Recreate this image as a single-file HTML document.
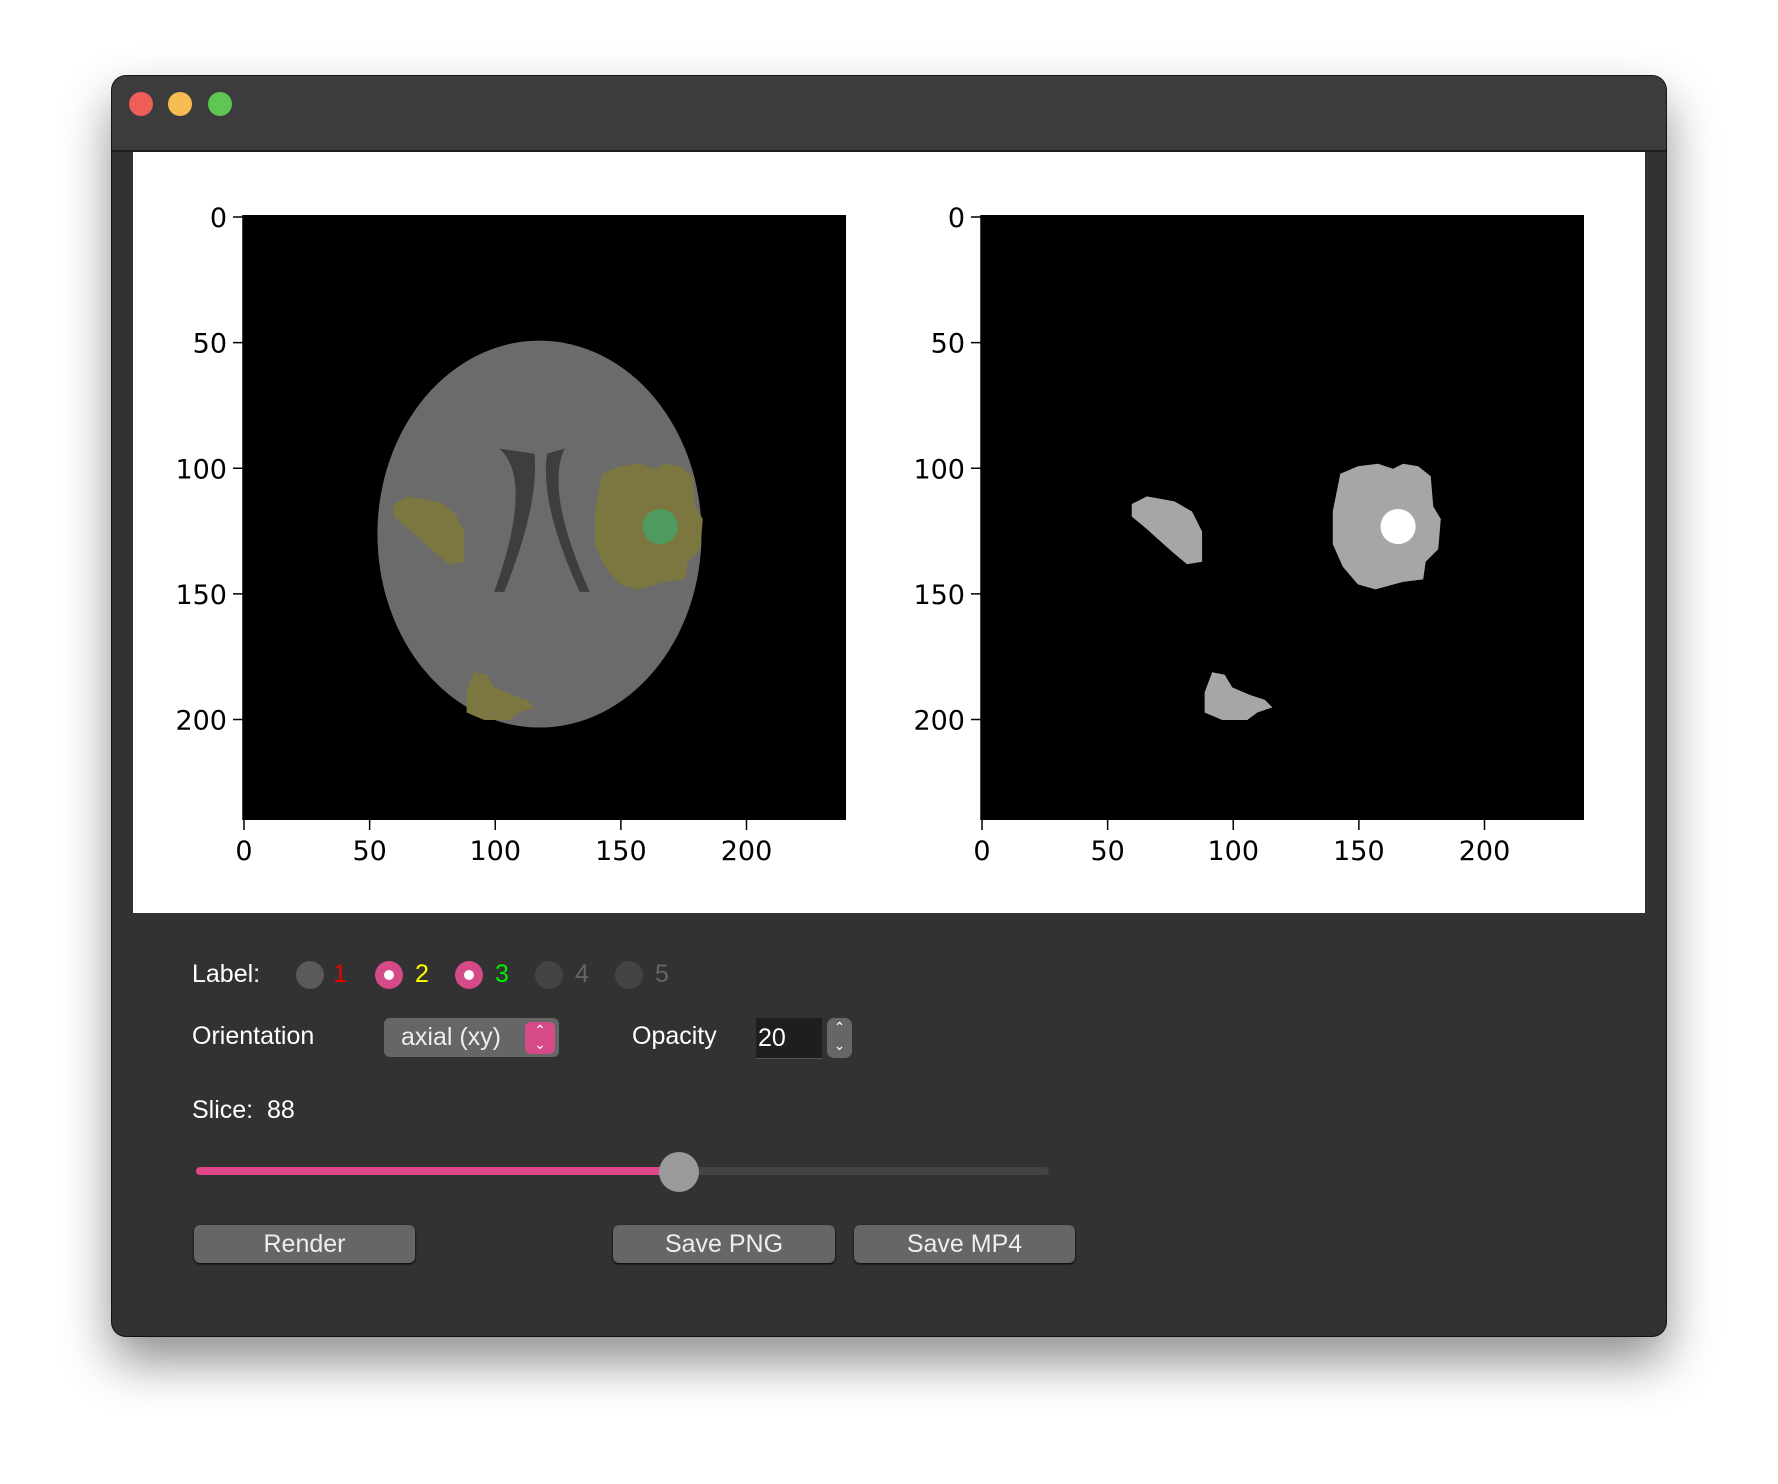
<!DOCTYPE html>
<html><head><meta charset="utf-8"><style>
body{margin:0;width:1778px;height:1484px;background:#fff;position:relative;overflow:hidden;font-family:"Liberation Sans",sans-serif}
.abs{position:absolute}
.win{left:112px;top:76px;width:1554px;height:1260px;background:#323232;border-radius:14px;box-shadow:0 25px 50px rgba(0,0,0,.45),0 0 0 1px #1a1a1a}
.title{left:112px;top:76px;width:1554px;height:74px;background:#3d3c3d;border-radius:14px 14px 0 0;border-bottom:2px solid #1e1e1e}
.dot{width:24px;height:24px;border-radius:50%;top:92px}
.lbl{color:#fff;font-size:25px}
.radio{width:28px;height:28px;border-radius:50%;background:#5a5a5a;top:961px}
.radio.on{background:#d64a8a}
.radio.on::after{content:"";position:absolute;left:9px;top:9px;width:10px;height:10px;border-radius:50%;background:#fff}
.btn{top:1225px;height:38px;background:#666;border-radius:6px;color:#eee;font-size:25px;text-align:center;line-height:38px;box-shadow:0 1px 2px #000}
</style></head><body>
<div class="abs win"></div>
<div class="abs title"></div>
<div class="abs dot" style="left:129px;background:#ee5f57"></div>
<div class="abs dot" style="left:168px;background:#f5bd4f"></div>
<div class="abs dot" style="left:208px;background:#5fc653"></div>
<svg class="abs" style="left:133px;top:152px" width="1512" height="761">
<rect width="1512" height="761" fill="#fff"/>
<g id="g"></g>
</svg>
<div class="abs lbl" style="left:192px;top:960px">Label:</div>
<div class="abs radio" style="left:296px"></div>
<div class="abs lbl" style="left:333px;top:960px;color:#e00">1</div>
<div class="abs radio on" style="left:375px"></div>
<div class="abs lbl" style="left:415px;top:960px;color:#ff0">2</div>
<div class="abs radio on" style="left:455px"></div>
<div class="abs lbl" style="left:495px;top:960px;color:#0e0">3</div>
<div class="abs radio" style="left:535px;background:#444"></div>
<div class="abs lbl" style="left:575px;top:960px;color:#666">4</div>
<div class="abs radio" style="left:615px;background:#444"></div>
<div class="abs lbl" style="left:655px;top:960px;color:#666">5</div>
<div class="abs lbl" style="left:192px;top:1022px">Orientation</div>
<div class="abs" style="left:384px;top:1018px;width:175px;height:39px;background:#666;border-radius:6px;color:#eee;font-size:25px;line-height:39px"><span style="margin-left:17px">axial (xy)</span><div class="abs" style="right:4px;top:4px;width:30px;height:31px;background:#d64a8a;border-radius:6px;color:#fff;font-size:14px;line-height:14px;text-align:center;padding-top:1px">⌃<br>⌄</div></div>
<div class="abs lbl" style="left:632px;top:1022px">Opacity</div>
<div class="abs" style="left:756px;top:1018px;width:66px;height:40px;background:#1e1e1e;color:#fff;font-size:25px;line-height:40px;border-bottom:1px solid #555"><span style="margin-left:2px">20</span></div>
<div class="abs" style="left:827px;top:1018px;width:25px;height:40px;background:#666;border-radius:7px;color:#fff;font-size:14px;text-align:center;line-height:18px">⌃<br>⌄</div>
<div class="abs lbl" style="left:192px;top:1096px">Slice:&nbsp; 88</div>
<div class="abs" style="left:196px;top:1167px;width:853px;height:8px;background:#444;border-radius:4px"></div>
<div class="abs" style="left:196px;top:1167px;width:483px;height:8px;background:#e0468a;border-radius:4px"></div>
<div class="abs" style="left:659px;top:1152px;width:40px;height:40px;border-radius:50%;background:#9a9a9a"></div>
<div class="abs btn" style="left:194px;width:221px">Render</div>
<div class="abs btn" style="left:613px;width:222px">Save PNG</div>
<div class="abs btn" style="left:854px;width:221px">Save MP4</div>
<script>
const xTicks=[0,50,100,150,200];
const yTicks=[0,50,100,150,200];
const blobLeft=[[60,115],[66,112],[77,114],[84,118],[88,126],[88,138],[82,139],[76,134],[66,125],[60,120]];
const blobRight=[[143,103],[150,100],[158,99],[164,101],[168,99],[174,100],[179,104],[180,116],[183,121],[182,133],[177,138],[176,145],[168,146],[157,149],[150,147],[144,140],[140,131],[140,118]];
const blobBottom=[[92,182],[97,183],[100,188],[107,191],[113,193],[116,196],[110,198],[106,201],[96,201],[89,198],[89,190]];
const core=[166,124,7];
const brain=[118,127,64.5,77];
const NS="http://www.w3.org/2000/svg";
const g=document.getElementById('g');
const S=603/240;
function mk(t,a,p){const e=document.createElementNS(NS,t);for(const k in a)e.setAttribute(k,a[k]);(p||g).appendChild(e);return e;}
function pts(arr,ox,oy){return arr.map(p=>(ox+p[0]*S)+','+(oy+p[1]*S)).join(' ');}
function axes(ox,oy,name){
 const r=mk('rect',{x:ox,y:oy,width:603,height:605,fill:'#000'});
 
 
 mk('line',{x1:ox,y1:oy,x2:ox,y2:oy+605,stroke:'#000','stroke-width':1.5});
 xTicks.forEach(t=>{const x=ox+t*S+1;mk('line',{x1:x,y1:oy+605,x2:x,y2:oy+615,stroke:'#000','stroke-width':1.5});
  const tx=mk('text',{x:x,y:oy+645,'text-anchor':'middle','font-size':27,fill:'#000','font-family':'DejaVu Sans, sans-serif'});tx.textContent=t;
  
  });
 yTicks.forEach(t=>{const y=oy+t*S+2;mk('line',{x1:ox-10,y1:y,x2:ox,y2:y,stroke:'#000','stroke-width':1.5});
  const tx=mk('text',{x:ox-16,y:y+10,'text-anchor':'end','font-size':27,fill:'#000','font-family':'DejaVu Sans, sans-serif'});tx.textContent=t;
  
  });
}
// left
const lx=110,ly=63,rx=848;
axes(lx,ly,'mri-slice');
const b=mk('ellipse',{cx:lx+brain[0]*S,cy:ly+brain[1]*S,rx:brain[2]*S,ry:brain[3]*S,fill:'#6b6b6b'});


mk('path',{d:`M${lx+102*S},${ly+93*S} Q${lx+116*S},${ly+105*S} ${lx+100*S},${ly+150*S} L${lx+104*S},${ly+150*S} Q${lx+118*S},${ly+115*S} ${lx+116*S},${ly+95*S} Z`,fill:'#3e3e3e'});
mk('path',{d:`M${lx+128*S},${ly+93*S} Q${lx+120*S},${ly+110*S} ${lx+138*S},${ly+150*S} L${lx+134*S},${ly+150*S} Q${lx+118*S},${ly+115*S} ${lx+121*S},${ly+95*S} Z`,fill:'#3e3e3e'});
[blobLeft,blobRight,blobBottom].forEach((bl,i)=>{const p=mk('polygon',{points:pts(bl,lx,ly),fill:'#7c7740'});
 
 });
const c1=mk('circle',{cx:lx+core[0]*S,cy:ly+core[1]*S,r:core[2]*S,fill:'#4f9a5e'});


// right
axes(rx,ly,'segmentation-mask');
[blobLeft,blobRight,blobBottom].forEach(bl=>{const p=mk('polygon',{points:pts(bl,rx,ly),fill:'#a6a6a6'});
 
 });
const c2=mk('circle',{cx:rx+core[0]*S,cy:ly+core[1]*S,r:core[2]*S,fill:'#fff'});


</script>
</body></html>
